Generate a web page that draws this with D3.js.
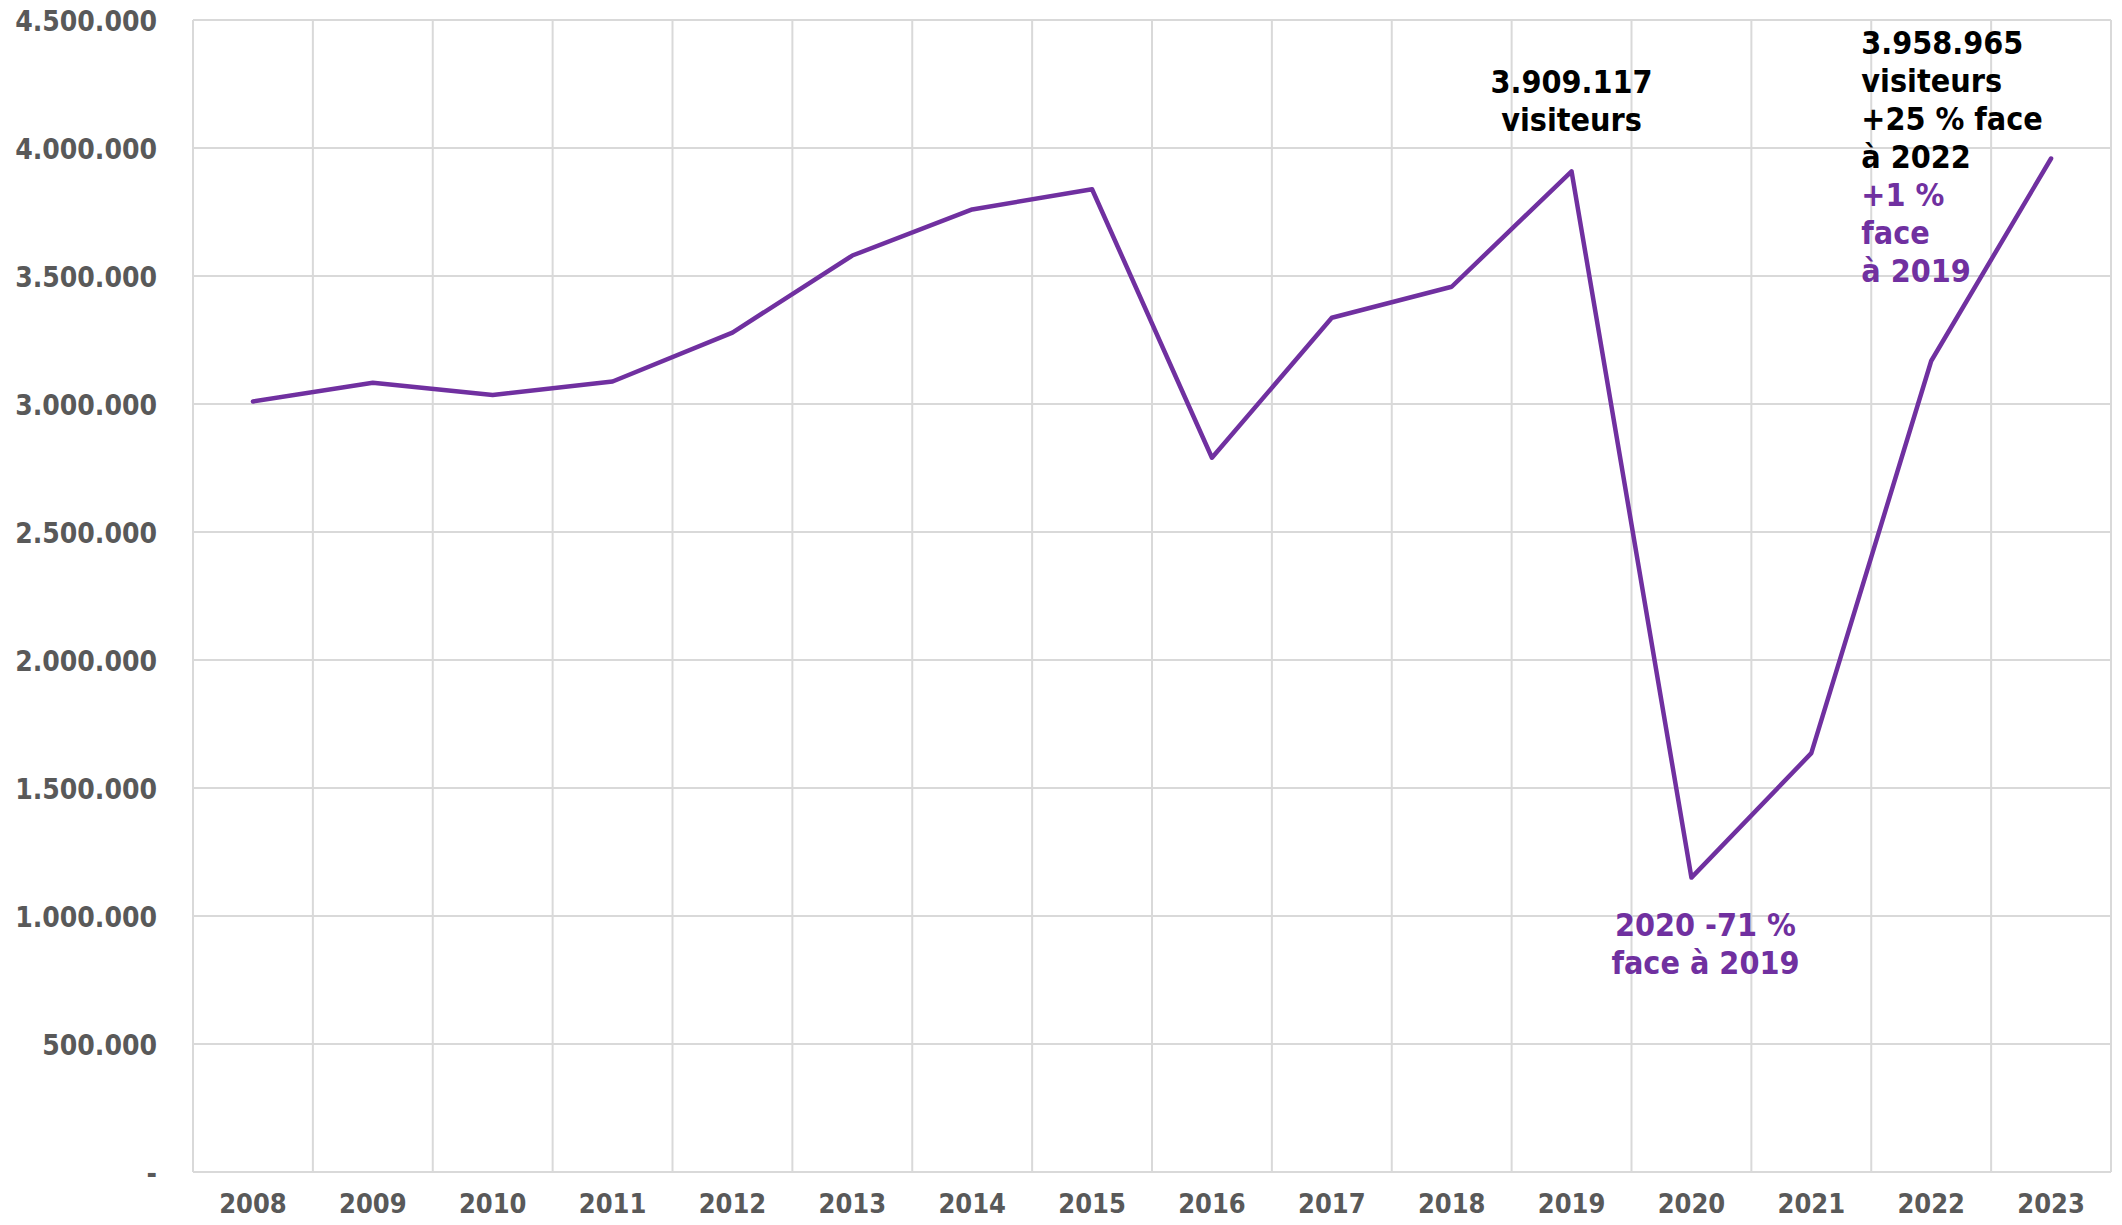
<!DOCTYPE html>
<html>
<head>
<meta charset="utf-8">
<script src="https://cdn.jsdelivr.net/npm/d3@7"></script>
<style>
  html, body { margin: 0; padding: 0; background: #ffffff; }
  svg { display: block; }
  .lbl { font-family: "DejaVu Sans Condensed", "DejaVu Sans", sans-serif; font-stretch: condensed; font-weight: bold; }
</style>
</head>
<body>
<svg id="chart" width="2122" height="1225"></svg>
<script>
const years = ["2008","2009","2010","2011","2012","2013","2014","2015","2016","2017","2018","2019","2020","2021","2022","2023"];
const visitors = [3010000, 3083000, 3035000, 3088000, 3279000, 3580000, 3760000, 3839000, 2790000, 3337000, 3458000, 3909117, 1150000, 1636000, 3168000, 3958965];
const yTicks = [0, 500000, 1000000, 1500000, 2000000, 2500000, 3000000, 3500000, 4000000, 4500000];
const note2019 = ["3.909.117", "visiteurs"];
const note2020 = ["2020 -71 %", "face à 2019"];
const note2023Black = ["3.958.965", "visiteurs", "+25 % face", "à 2022"];
const note2023Purple = ["+1 %", "face", "à 2019"];

const W = 2122, H = 1225;
const m = { left: 193, right: 11, top: 20, bottom: 53 };
const svg = d3.select("#chart");
const purple = "#7030A0";
const grid = "#d9d9d9";
const tickColor = "#595959";

const x = d3.scaleBand().domain(years).range([m.left, W - m.right]);
const y = d3.scaleLinear().domain([0, 4500000]).range([H - m.bottom, m.top]);
const fmt = v => v === 0 ? "-" : d3.format(",")(v).replace(/,/g, ".");

// horizontal gridlines
svg.append("g").selectAll("line").data(yTicks).join("line")
  .attr("x1", m.left).attr("x2", W - m.right)
  .attr("y1", d => y(d)).attr("y2", d => y(d))
  .attr("stroke", grid).attr("stroke-width", 2);

// vertical gridlines (band boundaries)
const bounds = years.map(d => x(d)).concat([x(years[years.length - 1]) + x.bandwidth()]);
svg.append("g").selectAll("line").data(bounds).join("line")
  .attr("x1", d => d).attr("x2", d => d)
  .attr("y1", y(4500000)).attr("y2", y(0))
  .attr("stroke", grid).attr("stroke-width", 2);

// y axis labels
const yAxis = d3.axisLeft(y).tickValues(yTicks).tickFormat(fmt).tickSize(0).tickPadding(36);
const gy = svg.append("g").attr("transform", `translate(${m.left},0)`).call(yAxis);
gy.select(".domain").remove();
gy.selectAll("text").attr("class", "lbl").attr("fill", tickColor)
  .style("font-size", "28px").attr("dy", "0.36em");

// x axis labels
const xAxis = d3.axisBottom(x).tickSize(0).tickPadding(22);
const gx = svg.append("g").attr("transform", `translate(0,${y(0)})`).call(xAxis);
gx.select(".domain").remove();
gx.selectAll("text").attr("class", "lbl").attr("fill", tickColor)
  .style("font-size", "27px");

// line
const cx = d => x(d) + x.bandwidth() / 2;
const line = d3.line().x((d, i) => cx(years[i])).y(d => y(d));
svg.append("path").datum(visitors)
  .attr("d", line).attr("fill", "none")
  .attr("stroke", purple).attr("stroke-width", 4.5)
  .attr("stroke-linejoin", "round").attr("stroke-linecap", "round");

// annotations
const lh = 38;
const i19 = years.indexOf("2019");
const t19 = svg.append("text").attr("class", "lbl").attr("fill", "#000")
  .attr("text-anchor", "middle").style("font-size", "32px");
note2019.forEach((s, k) => t19.append("tspan")
  .attr("x", cx("2019")).attr("y", y(visitors[i19]) - 78 + k * lh).text(s));

const i20 = years.indexOf("2020");
const t20 = svg.append("text").attr("class", "lbl").attr("fill", purple)
  .attr("text-anchor", "middle").style("font-size", "32px");
note2020.forEach((s, k) => t20.append("tspan")
  .attr("x", cx("2020") + 14).attr("y", y(visitors[i20]) + 58 + k * lh).text(s));

const t23 = svg.append("text").attr("class", "lbl").style("font-size", "32px");
const x23 = x("2022") - 10;
note2023Black.forEach((s, k) => t23.append("tspan")
  .attr("x", x23).attr("y", y(4500000) + 34 + k * lh).attr("fill", "#000").text(s));
note2023Purple.forEach((s, k) => t23.append("tspan")
  .attr("x", x23).attr("y", y(4500000) + 34 + (k + note2023Black.length) * lh).attr("fill", purple).text(s));
</script>
</body>
</html>
